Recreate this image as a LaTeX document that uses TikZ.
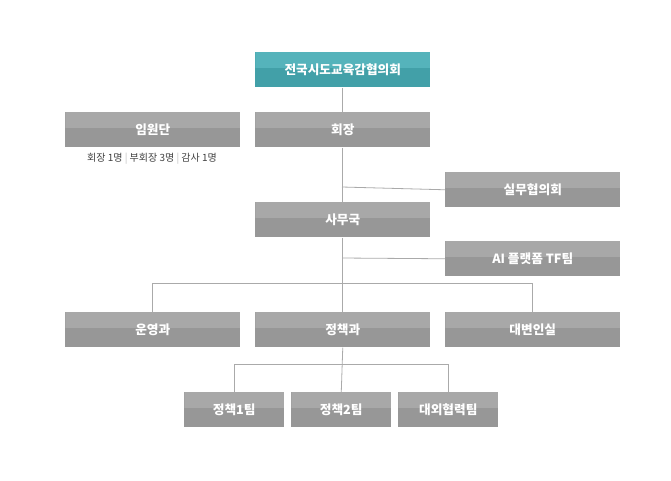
\documentclass[tikz,border=0pt]{standalone}
\usepackage{fontspec}
\setmainfont{Noto Sans CJK KR}
\definecolor{grayhi}{HTML}{A8A8A8}
\definecolor{graylo}{HTML}{979797}
\definecolor{tealhi}{HTML}{55B3BB}
\definecolor{teallo}{HTML}{42A0A8}
\definecolor{linegray}{HTML}{AAAAAA}
\tikzset{
  orgbox/.style={draw=none, fill=graylo, text=white, font=\fontsize{9.5}{11}\selectfont\bfseries,
    inner sep=0pt, minimum height=35*0.75pt, anchor=north west,
    path picture={\fill[grayhi] (path picture bounding box.north west) rectangle ([yshift=1.5pt]path picture bounding box.east);}},
  topbox/.style={orgbox, fill=teallo,
    path picture={\fill[tealhi] (path picture bounding box.north west) rectangle ([yshift=1.5pt]path picture bounding box.east);}},
  link/.style={draw=linegray, line width=0.6pt}
}
\begin{document}
\begin{tikzpicture}[x=0.75pt,y=-0.75pt]
\useasboundingbox (0,0) rectangle (671,480);
% top
\node[topbox, minimum width=175*0.75pt] (council) at (255,52) {전국시도교육감협의회};
% second row
\node[orgbox, minimum width=175*0.75pt] (exec) at (65,112) {임원단};
\node[orgbox, minimum width=175*0.75pt] (chair) at (255,112) {회장};
\node[font=\fontsize{7.5}{9}\selectfont, text=black!75] (execnote) at (152,159)
  {회장 1명 \textcolor{black!25}{|} 부회장 3명 \textcolor{black!25}{|} 감사 1명};
\node[orgbox, minimum width=175*0.75pt] (working) at (445,172) {실무협의회};
\node[orgbox, minimum width=175*0.75pt] (office) at (255,202) {사무국};
\node[orgbox, minimum width=175*0.75pt] (aitf) at (445,241) {AI 플랫폼 TF팀};
% departments
\node[orgbox, minimum width=175*0.75pt] (ops) at (65,312) {운영과};
\node[orgbox, minimum width=175*0.75pt] (policy) at (255,312) {정책과};
\node[orgbox, minimum width=175*0.75pt] (spokes) at (445,312) {대변인실};
% teams
\node[orgbox, minimum width=100*0.75pt] (team1) at (184,392) {정책1팀};
\node[orgbox, minimum width=100*0.75pt] (team2) at (291,392) {정책2팀};
\node[orgbox, minimum width=100*0.75pt] (extern) at (398,392) {대외협력팀};
% connectors
\coordinate (j1) at (342,187);
\coordinate (j2) at (342,258);
\coordinate (j3) at (342,283);
\coordinate (j4) at (342,364);
\draw[link] (council.south) -- (chair.north);
\draw[link] (chair.south) -- (office.north);
\draw[link] (j1) -- (working.west);
\draw[link] (office.south) -- (policy.north);
\draw[link] (j2) -- (aitf.west);
\draw[link] (ops.north) |- (j3) -| (spokes.north);
\draw[link] (policy.south) -- (team2.north);
\draw[link] (team1.north) |- (j4) -| (extern.north);
\end{tikzpicture}
\end{document}
